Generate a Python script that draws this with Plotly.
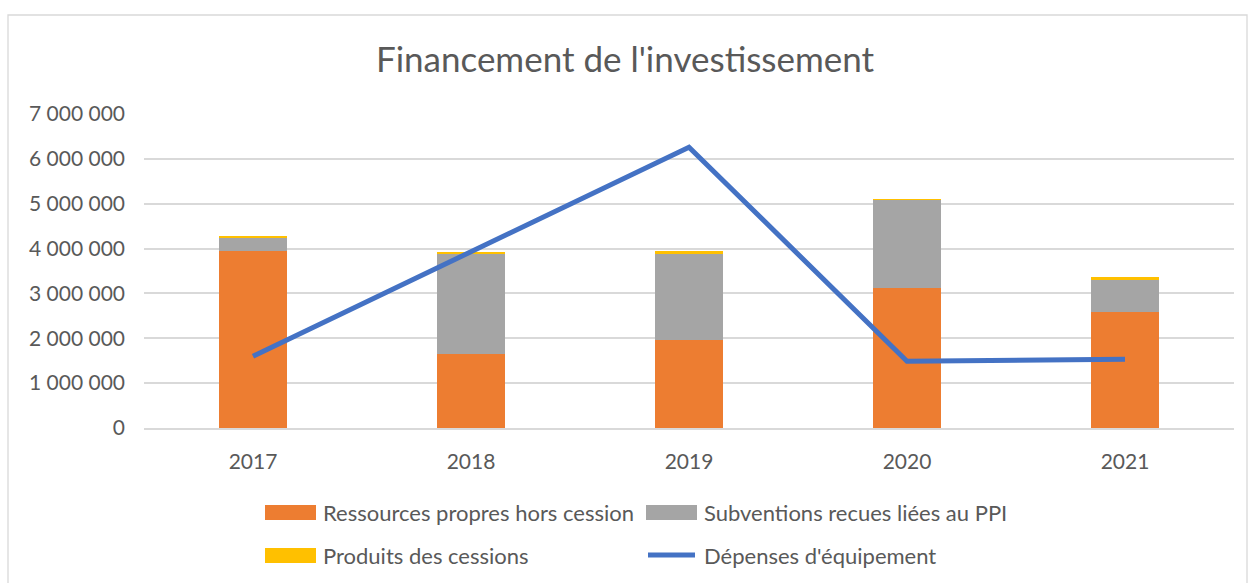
import plotly.graph_objects as go

years = ["2017", "2018", "2019", "2020", "2021"]
ressources_propres = [3940000, 1650000, 1960000, 3120000, 2590000]
subventions = [310000, 2250000, 1930000, 1970000, 710000]
produits_cessions = [20000, 30000, 50000, 10000, 60000]
depenses_equipement = [1600000, 3930000, 6260000, 1490000, 1530000]

series_names = ["Ressources propres hors cession", "Subventions recues liées au PPI",
                "Produits des cessions", "Dépenses d'équipement"]
series_colors = ["#ED7D31", "#A5A5A5", "#FFC000", "#4472C4"]

font_family = "Lato, 'Open Sans', sans-serif"
txt = "#595959"

fig = go.Figure()
for vals, name, col in zip([ressources_propres, subventions, produits_cessions],
                           series_names[:3], series_colors[:3]):
    fig.add_bar(x=years, y=vals, name=name,
                marker=dict(color=col, line=dict(width=0)), width=0.31)
fig.add_scatter(x=years, y=depenses_equipement, name=series_names[3],
                mode="lines", line=dict(color=series_colors[3], width=5))

# plot area geometry in pixels (for placing legend/border in paper coords)
L, T, W, H = 144, 114, 1090, 314


def px(x):
    return (x - L) / W


def py(y):
    return (T + H - y) / H


fig.update_layout(
    barmode="stack",
    width=1250, height=583,
    margin=dict(l=L, r=1250 - L - W, t=T, b=583 - T - H),
    paper_bgcolor="white", plot_bgcolor="white",
    separators=", ",
    font=dict(family=font_family, color=txt, size=21),
    title=dict(text="Financement de l'investissement", x=0.5, xanchor="center",
               y=1 - 60 / 583, yanchor="middle", font=dict(size=35, color=txt)),
    showlegend=False,
    bargap=0.69,
)
fig.update_yaxes(range=[0, 7000000], dtick=1000000, tickformat=",d",
                 showgrid=True, gridcolor="#D9D9D9", gridwidth=1.5,
                 zeroline=False, showline=False, ticks="",
                 ticklabelstandoff=18,
                 tickfont=dict(size=21, color=txt))
fig.update_xaxes(showline=True, linecolor="#D9D9D9", linewidth=1.5, ticks="",
                 ticklabelstandoff=14,
                 tickfont=dict(size=21, color=txt))

# chart border
fig.add_shape(type="rect", xref="paper", yref="paper",
              x0=px(8), x1=px(1247), y0=py(600), y1=py(15),
              line=dict(color="#D9D9D9", width=1.3), fillcolor="rgba(0,0,0,0)", layer="below")

# custom legend
legend_pos = [(265, 512), (646, 512), (265, 555), (646, 555)]
for i, (name, col) in enumerate(zip(series_names, series_colors)):
    x0, yc = legend_pos[i]
    if i < 3:
        fig.add_shape(type="rect", xref="paper", yref="paper",
                      x0=px(x0), x1=px(x0 + 51), y0=py(yc + 8), y1=py(yc - 7),
                      line=dict(width=0), fillcolor=col)
    else:
        fig.add_shape(type="line", xref="paper", yref="paper",
                      x0=px(x0 + 2), x1=px(x0 + 49), y0=py(yc), y1=py(yc),
                      line=dict(color=col, width=5))
    fig.add_annotation(text=name, xref="paper", yref="paper",
                       x=px(x0 + 56), y=py(yc), xanchor="left", yanchor="middle",
                       showarrow=False, font=dict(size=22, color=txt))

fig.write_html("out.html", config={"displayModeBar": False},
               post_script="document.body.style.margin='0';")
